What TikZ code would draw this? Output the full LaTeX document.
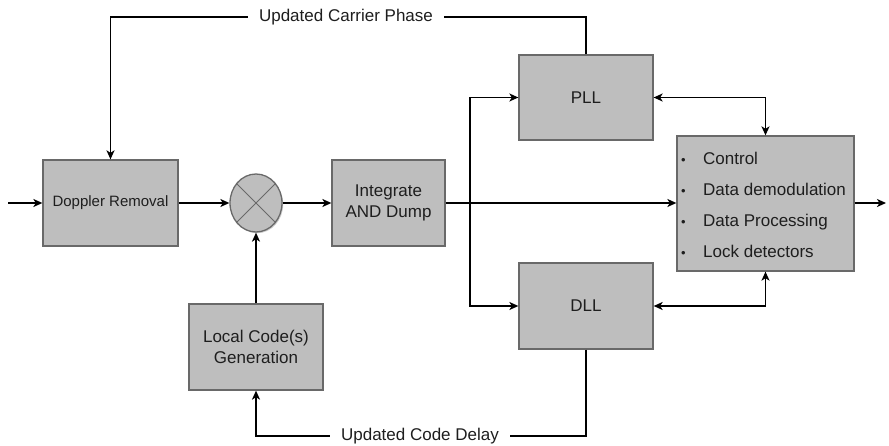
\documentclass[tikz,border=0pt]{standalone}
\usepackage{fontspec}
\setmainfont{Liberation Sans}
\usetikzlibrary{arrows.meta,shapes.geometric,shadows}
\definecolor{boxgray}{RGB}{190,190,190}
\definecolor{edgegray}{RGB}{105,105,105}
\definecolor{txt}{RGB}{30,30,30}
\begin{document}
\begin{tikzpicture}[x=1pt,y=-1pt,
  blk/.style={draw=edgegray,line width=1.3pt,fill=boxgray,rectangle,inner sep=0pt,
    text=txt,align=center,font=\fontsize{17}{21}\selectfont,
    drop shadow={shadow xshift=1.2pt,shadow yshift=-1.2pt,opacity=0.4}},
  lbl/.style={text=txt,font=\fontsize{17}{20}\selectfont,inner xsep=11pt,inner ysep=2pt},
  tip/.tip={Stealth[length=9pt,width=8pt,inset=2.5pt]},
  arr/.style={line width=1.7pt,-tip},
  barr/.style={line width=1.7pt,tip-tip},
  ln/.style={line width=1.7pt},
  ctxt/.style={text=txt,font=\fontsize{17}{20}\selectfont,anchor=base west,inner sep=0pt}]
\useasboundingbox (0,0) rectangle (889,446);

\node[blk,minimum width=135pt,minimum height=86pt,font=\fontsize{15}{18}\selectfont] (dop) at (110.5,203) {Doppler Removal};
\node[ellipse,draw=edgegray,line width=1.3pt,fill=boxgray,minimum width=52pt,minimum height=58pt,inner sep=0pt,
  drop shadow={shadow xshift=1.2pt,shadow yshift=-1.2pt,opacity=0.4}] (mix) at (256,203) {};
\draw[edgegray,line width=1pt] (mix.45) -- (mix.225) (mix.135) -- (mix.315);
\node[blk,minimum width=113pt,minimum height=86pt] (integ) at (388.5,203) {Integrate\\AND Dump};
\node[blk,minimum width=134pt,minimum height=85pt] (pll) at (586,97.5) {PLL};
\node[blk,minimum width=134pt,minimum height=86pt] (dll) at (586,306) {DLL};
\node[blk,minimum width=134pt,minimum height=86pt] (loc) at (256,347) {Local Code(s)\\Generation};
\node[blk,minimum width=177pt,minimum height=135pt] (ctrl) at (765.5,203.5) {};
\foreach \t [count=\i] in {Control,Data demodulation,Data Processing,Lock detectors}{
  \node[ctxt,font=\fontsize{13}{15}\selectfont] (b\i) at (681,165+30.7*\i-30.7) {•};
  \node[ctxt] (c\i) at (703,165+30.7*\i-30.7) {\t};
}
\node[lbl] (cp) at (346,17) {Updated Carrier Phase};
\node[lbl] (cd) at (420,436) {Updated Code Delay};

\coordinate (in) at (8,203);
\coordinate (out) at (886,203);
\coordinate (sp) at (470,203);

\draw[arr] (in) -- (dop);
\draw[arr] (dop) -- (mix);
\draw[arr] (mix) -- (integ);
\draw[arr] (integ.east) -- (integ.east -| ctrl.west);
\draw[arr] (ctrl.east |- out) -- (out);
\draw[arr] (loc) -- (mix);
\draw[arr] (sp) |- (pll.west);
\draw[arr] (sp) |- (dll.west);
\draw[barr] (pll.east) -| (ctrl.north);
\draw[barr] (dll.east) -| (ctrl.south);
\draw[ln] (pll.north) |- (cp.east);
\draw[arr] (cp.west) -| (dop.north);
\draw[ln] (dll.south) |- (cd.east);
\draw[arr] (cd.west) -| (loc.south);
\end{tikzpicture}
\end{document}
